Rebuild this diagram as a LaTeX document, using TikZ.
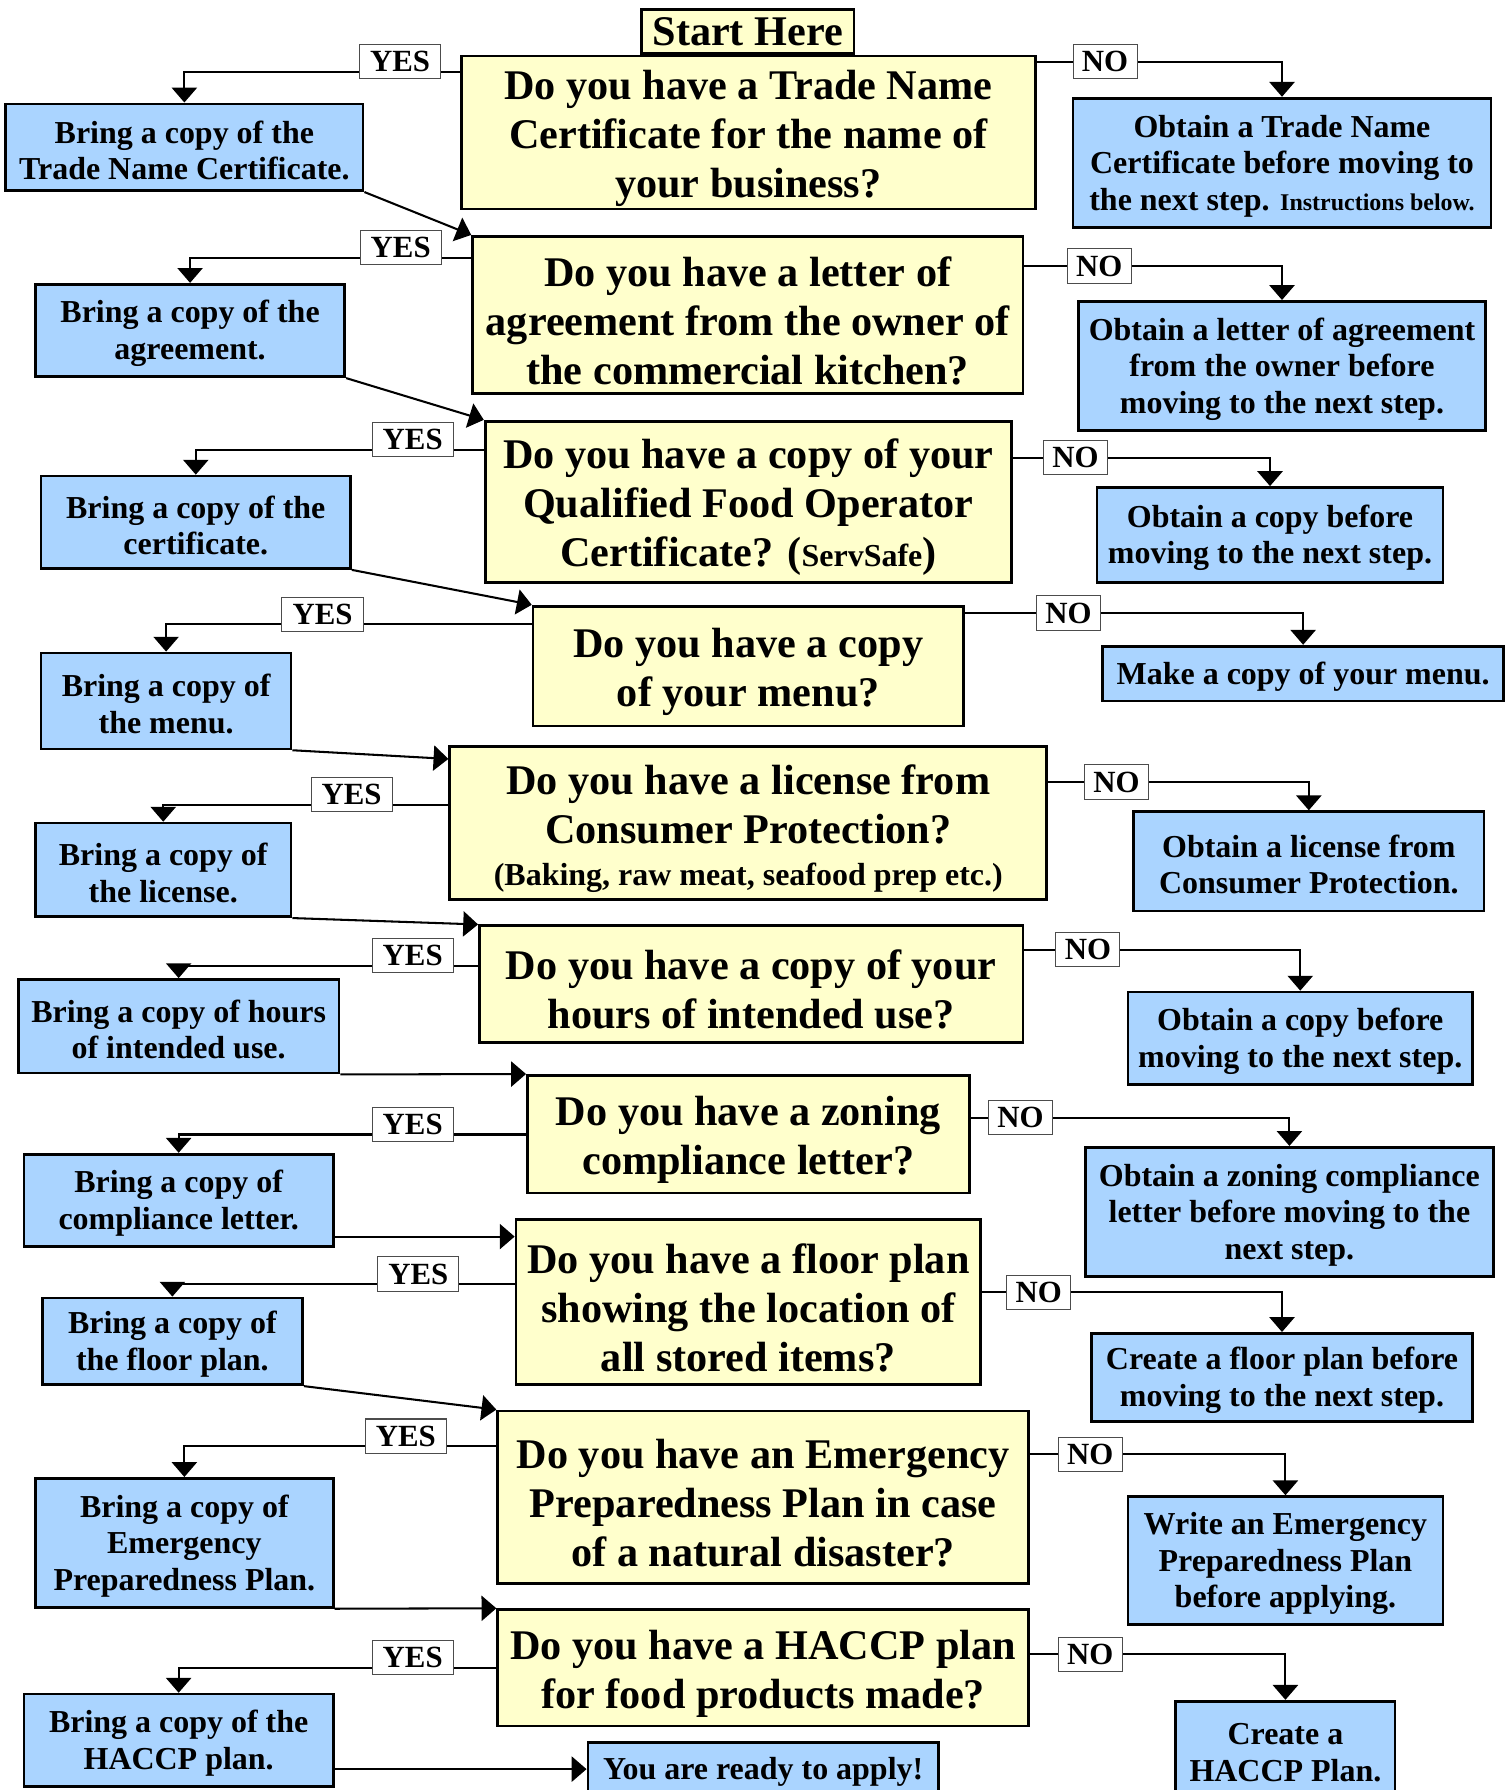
\documentclass[tikz,border=0pt]{standalone}
\usepackage{fontspec}
\setmainfont{Liberation Serif}
\usetikzlibrary{arrows.meta}
\pgfdeclarelayer{bg}
\pgfsetlayers{bg,main}
\definecolor{qyellow}{RGB}{255,255,204}
\definecolor{ablue}{RGB}{170,212,255}
\newcommand\qfont{\fontsize{37}{43}\selectfont\bfseries}
\newcommand\afont{\fontsize{28}{32}\selectfont\bfseries}
\newcommand\tfont{\fontsize{27}{30}\selectfont\bfseries}
\tikzset{
  qbase/.style={draw, line width=2.4pt, fill=qyellow, align=flush center, font=\qfont, inner sep=0pt},
  qbox/.style={qbase, minimum width=#1, text width=#1, execute at begin node={\rule{0pt}{36pt}}},
  abox/.style={draw, line width=2.4pt, fill=ablue, align=flush center, font=\afont, inner sep=0pt,
    minimum width=#1, text width=#1, execute at begin node={\rule{0pt}{25pt}}},
  tag/.style={draw=black!70, line width=0.9pt, fill=white, font=\tfont, inner sep=0pt, minimum height=30pt},
  link/.style={line width=1.8pt, -{Triangle[width=22pt,length=13pt]}},
}
\begin{document}
\begin{tikzpicture}[x=1pt,y=-1pt]
\useasboundingbox (0,0) rectangle (1324,1568);
% questions
\node[qbase, minimum width=186pt, minimum height=39pt] (start) at (655,27.5) {Start Here};
\node[qbox=503pt, minimum height=134pt] (q1) at (655.5,116) {Do you have a Trade Name\\Certificate for the name of\\your business?};
\node[qbox=482pt, minimum height=138pt] (q2) at (655,276) {Do you have a letter of\\agreement from the owner of\\the commercial kitchen?};
\node[qbox=461pt, minimum height=141pt] (q3) at (655.5,439.5) {Do you have a copy of your\\Qualified Food Operator\\Certificate? ({\fontsize{28}{43}\selectfont ServSafe})};
\node[qbox=377pt, minimum height=105pt] (q4) at (655.5,583.5) {Do you have a copy\\of your menu?};
\node[qbox=523pt, minimum height=134pt] (q5) at (655.5,721) {Do you have a license from\\Consumer Protection?\\[-6pt]{\fontsize{28}{32}\selectfont (Baking, raw meat, seafood prep etc.)}};
\node[qbox=476pt, minimum height=102pt] (q6) at (658,862) {Do you have a copy of your\\hours of intended use?};
\node[qbox=387pt, minimum height=103pt] (q7) at (655.5,993.5) {Do you have a zoning\\compliance letter?};
\node[qbox=407pt, minimum height=145pt] (q8) at (655.5,1140.5) {Do you have a floor plan\\showing the location of\\all stored items?};
\node[qbox=465pt, minimum height=151pt] (q9) at (668.5,1311.5) {Do you have an Emergency\\Preparedness Plan in case\\of a natural disaster?};
\node[qbox=465pt, minimum height=102pt] (q10) at (668.5,1461) {Do you have a HACCP plan\\for food products made?};
% yes side
\node[abox=313pt, minimum height=76pt] (b1) at (161.5,129) {Bring a copy of the\\Trade Name Certificate.};
\node[abox=271pt, minimum height=81pt] (b2) at (166.5,289.5) {Bring a copy of the\\agreement.};
\node[abox=271pt, minimum height=81pt] (b3) at (171.5,457.5) {Bring a copy of the\\certificate.};
\node[abox=219pt, minimum height=84pt] (b4) at (145.5,614) {Bring a copy of\\the menu.};
\node[abox=224pt, minimum height=82pt] (b5) at (143,762) {Bring a copy of\\the license.};
\node[abox=281pt, minimum height=82pt] (b6) at (156.5,899) {Bring a copy of hours\\of intended use.};
\node[abox=271pt, minimum height=81pt] (b7) at (156.5,1051.5) {Bring a copy of\\compliance letter.};
\node[abox=228pt, minimum height=76pt] (b8) at (151,1175) {Bring a copy of\\the floor plan.};
\node[abox=261pt, minimum height=113pt] (b9) at (161.5,1351.5) {Bring a copy of\\Emergency\\Preparedness Plan.};
\node[abox=271pt, minimum height=81pt] (b10) at (156.5,1524.5) {Bring a copy of the\\HACCP plan.};
\node[abox=307pt, minimum height=47pt, anchor=north] (ready) at (668.5,1525) {You are ready to apply!};
% no side
\node[abox=366pt, minimum height=113pt] (o1) at (1123,142.5) {Obtain a Trade Name\\Certificate before moving to\\the next step. {\fontsize{21}{32}\selectfont Instructions below.}};
\node[abox=356pt, minimum height=113pt] (o2) at (1123,320.5) {Obtain a letter of agreement\\from the owner before\\moving to the next step.};
\node[abox=303pt, minimum height=83pt] (o3) at (1112.5,468.5) {Obtain a copy before\\moving to the next step.};
\node[abox=351pt, minimum height=48pt] (o4) at (1141.5,590) {Make a copy of your menu.};
\node[abox=307pt, minimum height=87pt] (o5) at (1146.5,754.5) {Obtain a license from\\Consumer Protection.};
\node[abox=302pt, minimum height=81pt] (o6) at (1139,909.5) {Obtain a copy before\\moving to the next step.};
\node[abox=357pt, minimum height=113pt] (o7) at (1129.5,1061.5) {Obtain a zoning compliance\\letter before moving to the\\next step.};
\node[abox=334pt, minimum height=77pt] (o8) at (1123,1206.5) {Create a floor plan before\\moving to the next step.};
\node[abox=276pt, minimum height=112pt] (o9) at (1126,1367) {Write an Emergency\\Preparedness Plan\\before applying.};
\node[abox=192pt, minimum height=84pt, anchor=north] (o10) at (1126,1489) {Create a\\HACCP Plan.};
% yes / no tags
\node[tag, minimum width=71pt] (y1) at (350.5,54) {YES};
\node[tag, minimum width=71pt] (y2) at (351,217) {YES};
\node[tag, minimum width=71pt] (y3) at (361.5,385) {YES};
\node[tag, minimum width=71pt] (y4) at (282.5,538) {YES};
\node[tag, minimum width=71pt] (y5) at (308,696) {YES};
\node[tag, minimum width=71pt] (y6) at (361.5,837) {YES};
\node[tag, minimum width=71pt] (y7) at (361.5,985) {YES};
\node[tag, minimum width=71pt] (y8) at (366.5,1116) {YES};
\node[tag, minimum width=71pt] (y9) at (355.5,1258) {YES};
\node[tag, minimum width=71pt] (y10) at (361.5,1452) {YES};
\node[tag, minimum width=56pt] (n1) at (968,54) {NO};
\node[tag, minimum width=56pt] (n2) at (963,233) {NO};
\node[tag, minimum width=56pt] (n3) at (942,401) {NO};
\node[tag, minimum width=56pt] (n4) at (936,537) {NO};
\node[tag, minimum width=56pt] (n5) at (978,685) {NO};
\node[tag, minimum width=56pt] (n6) at (953,832) {NO};
\node[tag, minimum width=56pt] (n7) at (894,979) {NO};
\node[tag, minimum width=56pt] (n8) at (910,1132) {NO};
\node[tag, minimum width=56pt] (n9) at (955,1274) {NO};
\node[tag, minimum width=56pt] (n10) at (955,1449) {NO};
% yes / no connectors, behind the tags
\begin{pgfonlayer}{bg}
\foreach \i in {1,...,10}{
  \draw[link] (q\i.west |- y\i.base) -| (b\i.north);
  \draw[link] (q\i.east |- n\i) -| (o\i.north);
}
\end{pgfonlayer}
% on to the next question
\draw[link] (b1.south east) -- (q2.north west);
\draw[link] (b2.south east) -- (q3.north west);
\draw[link] (b3.south east) -- (q4.north west);
\draw[link] (b4.south east) -- ([yshift=-12pt]q5.north west);
\draw[link] (b5.south east) -- (q6.north west);
\draw[link] (b6.south east) -- (q7.north west);
\draw[link] ([yshift=10pt]b7.south east) -- ([yshift=10pt]b7.south east -| q8.west);
\draw[link] (b8.south east) -- (q9.north west);
\draw[link] (b9.south east) -- (q10.north west);
\draw[link] (b10.east |- ready) -- (ready.west);
\end{tikzpicture}
\end{document}
